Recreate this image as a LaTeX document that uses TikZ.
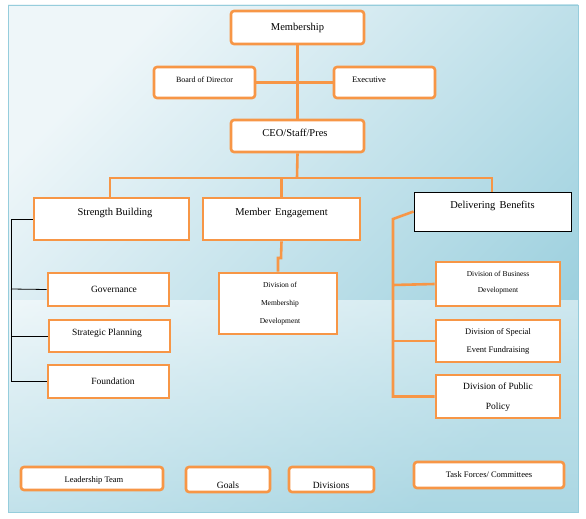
\documentclass[tikz,border=0pt]{standalone}
\usepackage{fontspec}
\setmainfont{Liberation Serif}
\definecolor{org}{RGB}{247,150,70}
\definecolor{bgA}{RGB}{238,246,249}
\definecolor{bgB}{RGB}{150,205,220}
\begin{document}
\begin{tikzpicture}[x=1pt,y=-1pt,
 ob/.style={draw=org,line width=2.6pt,fill=white,inner sep=0pt},
 rb/.style={ob,rounded corners=3pt},
 bb/.style={draw=black,line width=0.8pt,fill=white,inner sep=0pt},
 ol/.style={draw=org,line width=2.6pt},
 kl/.style={draw=black,line width=0.8pt}]
\useasboundingbox (0,0) rectangle (586,519);
\fill[white] (0,0) rectangle (586,519);
\shade[left color=bgA,right color=bgB,shading angle=45] (8,5) rectangle (578,512);
\shade[top color=bgA!0,bottom color=bgB!60,opacity=0.5] (8,300) rectangle (578,512);
\draw[bgB,line width=0.6pt] (8,5) rectangle (578,512);
% boxes
\node[rb,minimum width=133pt,minimum height=33pt] (mem) at (297.5,27.5) {};
\node[font=\fontsize{10.5}{12}\selectfont] at (297.5,28) {Membership};
\node[rb,minimum width=101pt,minimum height=31pt] (bod) at (204.5,82.5) {};
\node[font=\fontsize{8}{10}\selectfont] at (204.5,80) {Board of Director};
\node[rb,minimum width=101pt,minimum height=31pt] (exe) at (384.5,82.5) {};
\node[font=\fontsize{8.5}{10}\selectfont] at (369,80) {Executive};
\node[rb,minimum width=133pt,minimum height=32pt] (ceo) at (297.5,136) {};
\node[font=\fontsize{10.5}{12}\selectfont] at (295,133) {CEO/Staff/Pres};
\node[ob,minimum width=155pt,minimum height=42pt] (sb) at (111.5,219) {};
\node[font=\fontsize{10.5}{12}\selectfont] at (115,213) {Strength Building};
\node[ob,minimum width=157pt,minimum height=42pt] (me) at (281.5,219) {};
\node[font=\fontsize{10.5}{12}\selectfont] at (281.5,213) {Member\ \,Engagement};
\node[bb,minimum width=157pt,minimum height=39pt] (db) at (492.5,211.5) {};
\node[font=\fontsize{10.5}{12}\selectfont] at (492.5,206) {Delivering\ \,Benefits};
\node[ob,minimum width=121pt,minimum height=33pt] (gov) at (108.5,289.5) {};
\node[font=\fontsize{9.5}{12}\selectfont] at (114,289) {Governance};
\node[ob,minimum width=121pt,minimum height=32pt] (sp) at (109.5,336) {};
\node[font=\fontsize{9.5}{12}\selectfont] at (107,333) {Strategic Planning};
\node[ob,minimum width=121pt,minimum height=33pt] (fo) at (108.5,381.5) {};
\node[font=\fontsize{9.5}{12}\selectfont] at (113,381) {Foundation};
\node[ob,minimum width=118pt,minimum height=61pt] (dmd) at (278,303.5) {};
\node[font=\fontsize{7.5}{18}\selectfont,align=center] at (280,304) {Division of\\Membership\\Development};
\node[ob,minimum width=124pt,minimum height=44pt] (dbd) at (498,284) {};
\node[font=\fontsize{7.5}{16}\selectfont,align=center] at (498,283) {Division of Business\\Development};
\node[ob,minimum width=124pt,minimum height=42pt] (dse) at (498,341) {};
\node[font=\fontsize{8.5}{18}\selectfont,align=center] at (498,341) {Division of Special\\Event Fundraising};
\node[ob,minimum width=124pt,minimum height=43pt] (dpp) at (498,396.5) {};
\begin{scope}
\clip (436,375) rectangle (560,413);
\node[font=\fontsize{9.5}{20}\selectfont,align=center] at (498,397) {Division of Public\\Policy};
\end{scope}
\node[rb,minimum width=142pt,minimum height=23pt] (lt) at (92,478.5) {};
\node[rb,minimum width=84pt,minimum height=25pt] (go) at (228,479.5) {};
\node[rb,minimum width=85pt,minimum height=25pt] (dv) at (331.5,479.5) {};
\begin{scope}
\clip (21,467) rectangle (374,489);
\node[font=\fontsize{8.5}{10}\selectfont] at (94,480) {Leadership Team};
\node[font=\fontsize{9.5}{10}\selectfont] at (228,485) {Goals};
\node[font=\fontsize{9.5}{10}\selectfont] at (331,485) {Divisions};
\end{scope}
\node[rb,minimum width=150pt,minimum height=26pt] (tf) at (489,475) {};
\node[font=\fontsize{8.5}{10}\selectfont] at (489,475) {Task Forces/ Committees};
% connectors
\coordinate (h1) at (110,178); \coordinate (h2) at (492,178);
\coordinate (j1) at (281,258); \coordinate (j2) at (278,258);
\draw[ol] (mem.south) -- (ceo.north);
\draw[ol] (bod.east) -- (exe.west);
\draw[ol] (ceo.south) -- (297,178);
\draw[ol] (sb.north -| h1) |- (h2) -- (db.north -| h2);
\draw[ol] (me.north) -- (me.north |- h1);
\draw[ol] (me.south) -- (j1) -- (j2) -- (dmd.north -| j2);
\draw[kl] (sb.west) -- (11,219) |- (fo.west);
\draw[kl] (11,289) -- (gov.west);
\draw[kl] (11,336) -- (sp.west);
\draw[ol] (db.west) -- (393,219) |- (dpp.west);
\draw[ol] (393,285) -- (dbd.west);
\draw[ol] (393,341) -- (dse.west);
\end{tikzpicture}
\end{document}
